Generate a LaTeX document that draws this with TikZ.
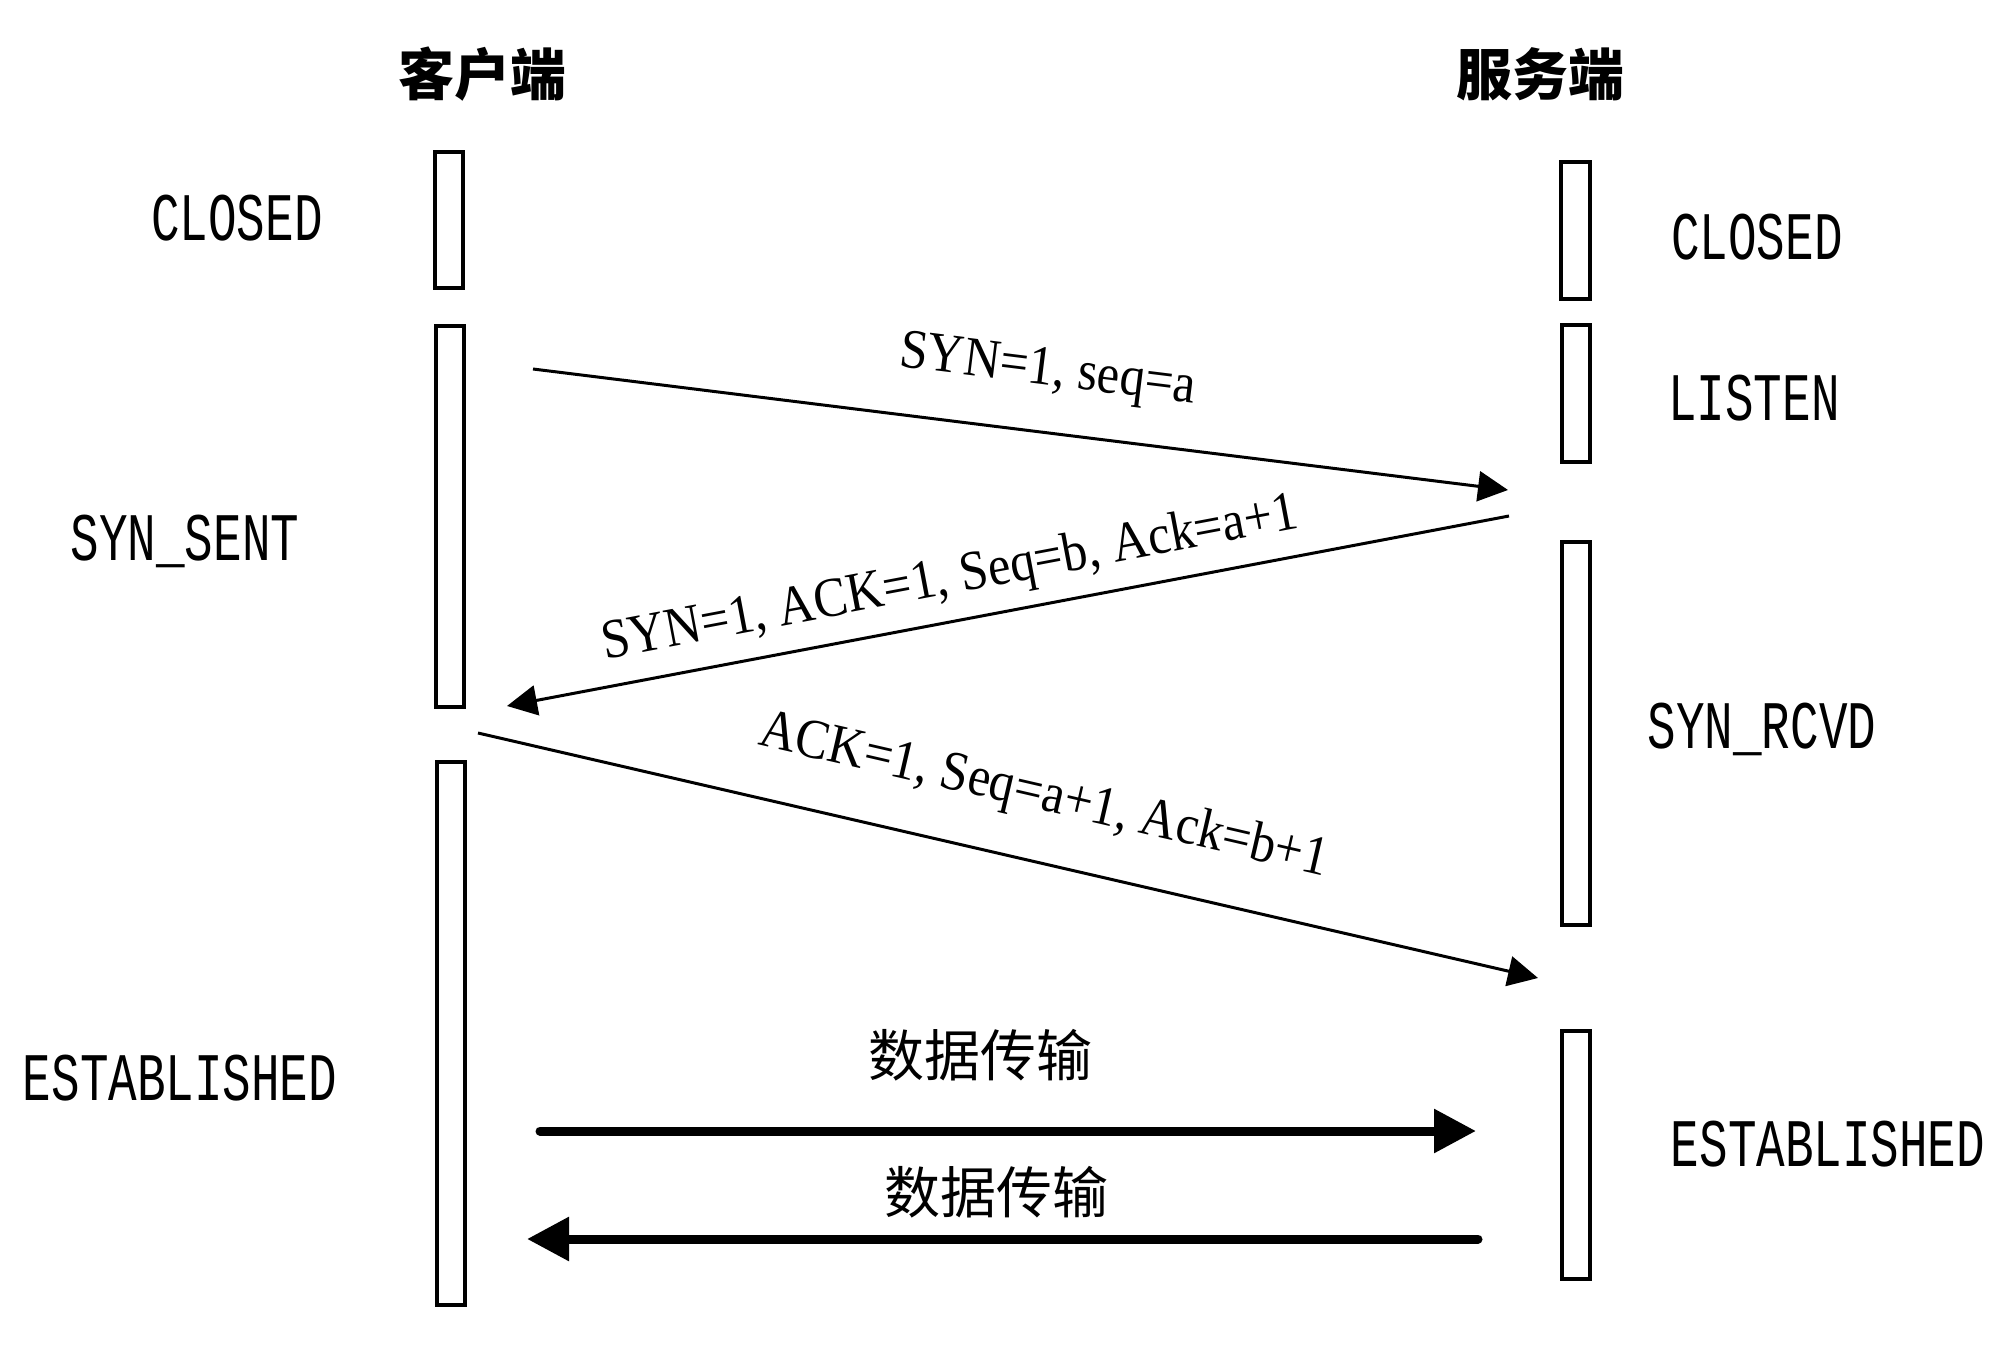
\documentclass[tikz,border=0pt]{standalone}
\usepackage{fontspec}
\setmainfont{Liberation Serif}
\newfontfamily\cjk{Noto Sans CJK SC}
\newfontfamily\statefont[FakeStretch=0.7]{Liberation Mono}
\newfontfamily\msgfont[FakeStretch=0.9]{Liberation Serif}
\usetikzlibrary{arrows.meta}

\tikzset{
  mtip/.tip={Triangle[length=15pt,width=15pt]},
  dtip/.tip={Triangle[length=21pt,width=21pt]},
  bar/.style={draw, line width=2pt},
  state/.style={font=\statefont\fontsize{34}{38}\selectfont, inner sep=0pt, anchor=base},
  side/.style={font=\cjk\bfseries\fontsize{28}{32}\selectfont, inner sep=0pt},
  msg/.style={line width=1.5pt},
  lbl/.style={font=\msgfont\fontsize{28}{32}\selectfont, inner sep=0pt, sloped},
  data/.style={line width=4.5pt, line cap=round},
  datalbl/.style={font=\cjk\fontsize{28}{32}\selectfont, inner sep=0pt}
}

\begin{document}
\begin{tikzpicture}[x=0.5pt,y=-0.5pt]
\useasboundingbox (0,0) rectangle (2010,1348);
\node[side] (client) at (482,74) {客户端};
\node[side] (server) at (1540,74) {服务端};
\draw[bar] (435,152) rectangle (463,288);
\draw[bar] (436,326) rectangle (464,707);
\draw[bar] (437,762) rectangle (465,1305);
\draw[bar] (1561,162) rectangle (1590,299);
\draw[bar] (1562,325) rectangle (1590,462);
\draw[bar] (1562,542) rectangle (1590,925);
\draw[bar] (1562,1031) rectangle (1590,1279);
\node[state] (cclosed) at (237,241) {CLOSED};
\node[state] (csent) at (185,560) {SYN\_SENT};
\node[state] (cestab) at (180,1100) {ESTABLISHED};
\node[state] (sclosed) at (1757,260) {CLOSED};
\node[state] (slisten) at (1754,421) {LISTEN};
\node[state] (srcvd) at (1762,748) {SYN\_RCVD};
\node[state] (sestab) at (1828,1166) {ESTABLISHED};
\coordinate (m1s) at (533,369);
\coordinate (m1e) at (1508,490);
\coordinate (m2s) at (1509,516);
\coordinate (m2e) at (507,706);
\coordinate (m3s) at (478,733);
\coordinate (m3e) at (1538,978);
\coordinate (d1s) at (540,1131);
\coordinate (d1e) at (1476,1131);
\coordinate (d2s) at (1478,1239);
\coordinate (d2e) at (527,1239);
\draw[msg,-mtip] (m1s) -- (m1e) node[lbl, pos=0.52, above=17pt] (syn) {SYN=1, seq=a};
\draw[msg,mtip-] (m2e) -- (m2s) node[lbl, pos=0.45, above=7pt] (synack) {SYN=1, ACK=1, Seq=b, Ack=a+1};
\draw[msg,-mtip] (m3s) -- (m3e) node[lbl, pos=0.52, above=19pt] (ack) {ACK=1, Seq=a+1, Ack=b+1};
\node[datalbl] (data1) at (980,1055) {数据传输};
\node[datalbl] (data2) at (996,1192) {数据传输};
\draw[data,-dtip] (d1s) -- (d1e);
\draw[data,-dtip] (d2s) -- (d2e);
\end{tikzpicture}
\end{document}
